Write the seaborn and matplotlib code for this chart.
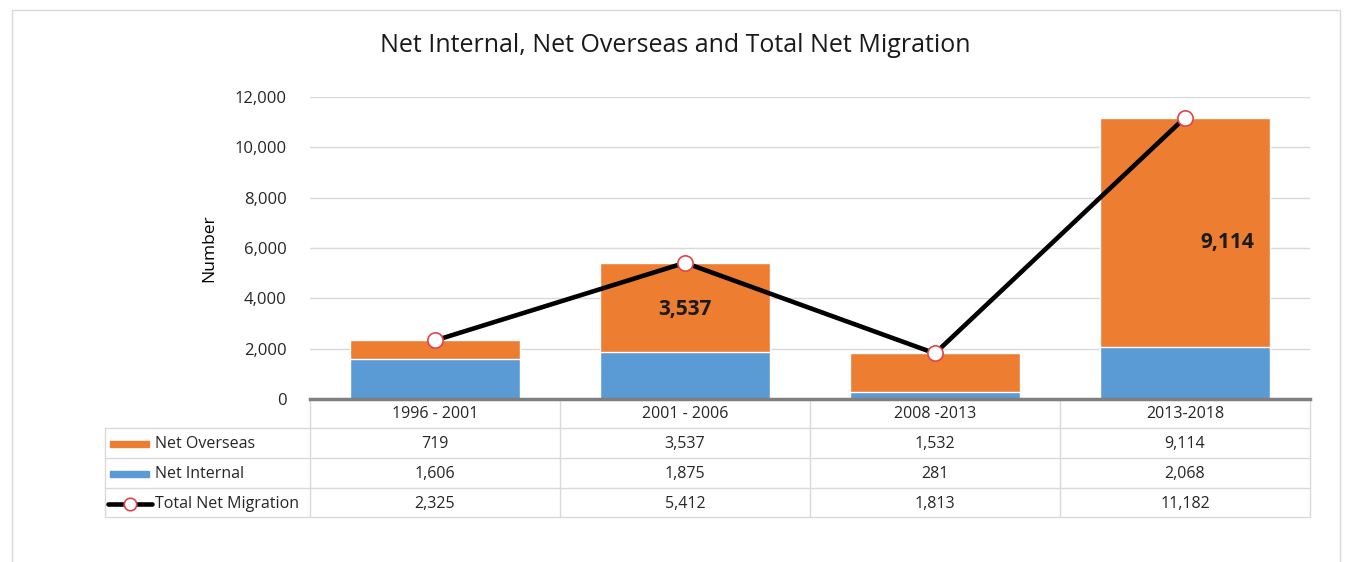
import numpy as np
import matplotlib
matplotlib.use("Agg")
import matplotlib.pyplot as plt
import seaborn as sns
from matplotlib.patches import Rectangle
from matplotlib.lines import Line2D

periods = ["1996 - 2001", "2001 - 2006", "2008 -2013", "2013-2018"]
net_overseas = [719, 3537, 1532, 9114]
net_internal = [1606, 1875, 281, 2068]
total_net = [2325, 5412, 1813, 11182]
series_names = ["Net Overseas", "Net Internal", "Total Net Migration"]
yticks = [0, 2000, 4000, 6000, 8000, 10000, 12000]

ORANGE = "#ED7D31"
BLUE = "#5B9BD5"
GRID = "#D9D9D9"
TXT = "#262626"

sns.set_theme(style="white")
plt.rcParams["font.family"] = ["Open Sans", "DejaVu Sans"]

W, H = 1348, 562
fig = plt.figure(figsize=(W / 100, H / 100), dpi=100)

# pixel helper axes for frame / table
over = fig.add_axes([0, 0, 1, 1], zorder=0)
over.set_xlim(0, W)
over.set_ylim(H, 0)
over.axis("off")

# outer chart frame
over.add_patch(Rectangle((12, 10), 1328, 600, fill=False, ec="#D9D9D9", lw=1))

px_left, px_right, px_top, px_bottom = 310, 1310, 97, 399
ax = fig.add_axes([px_left / W, 1 - px_bottom / H,
                   (px_right - px_left) / W, (px_bottom - px_top) / H], zorder=2)
ax.patch.set_alpha(0)

stack_top = [a + b for a, b in zip(net_overseas, net_internal)]
sns.barplot(x=periods, y=stack_top, color=ORANGE, width=0.68, ax=ax,
            saturation=1, zorder=2)
sns.barplot(x=periods, y=net_internal, color=BLUE, width=0.68, ax=ax,
            saturation=1, zorder=2)
ax.plot(range(len(periods)), total_net, color="black", lw=3.3, zorder=4,
        marker="o", markersize=11, markerfacecolor="white",
        markeredgecolor="#E0444B", markeredgewidth=1.2)

ax.set_xlim(-0.5, 3.5)
ax.set_ylim(0, 12000)
ax.set_yticks(yticks)
ax.set_yticklabels([f"{v:,}" for v in yticks], fontsize=12, color=TXT)
ax.set_xticks([])
ax.set_xlabel("")
ax.set_ylabel("Number", fontsize=12.5, color="black", labelpad=12)
ax.yaxis.grid(True, color=GRID, lw=1, zorder=0)
ax.set_axisbelow(True)
for s in ["top", "right", "left"]:
    ax.spines[s].set_visible(False)
ax.spines["bottom"].set_color("#7F7F7F")
ax.spines["bottom"].set_linewidth(2.5)
ax.tick_params(axis="y", length=0, pad=17)

# data labels inside orange segments
ax.text(1, 3576, f"{net_overseas[1]:,}", ha="center", va="center",
        fontsize=15, fontweight="bold", color="#1a1a1a", zorder=5)
ax.text(3.17, 6200, f"{net_overseas[3]:,}", ha="center", va="center",
        fontsize=15, fontweight="bold", color="#1a1a1a", zorder=5)

fig.text(675 / W, 1 - 45 / H, "Net Internal, Net Overseas and Total Net Migration",
         ha="center", va="center", fontsize=18, color="#1a1a1a")

# data table
col_w = (px_right - px_left) / len(periods)
row_edges = [399, 428, 458, 488, 517]
tab_left = 105
lc = "#D9D9D9"
for yv in row_edges[1:]:
    over.plot([tab_left, px_right], [yv, yv], color=lc, lw=1)
for i in range(len(periods) + 1):
    xv = px_left + i * col_w
    over.plot([xv, xv], [row_edges[0], row_edges[-1]], color=lc, lw=1)
over.plot([tab_left, tab_left], [row_edges[1], row_edges[-1]], color=lc, lw=1)

for i, p in enumerate(periods):
    xc = px_left + (i + 0.5) * col_w
    over.text(xc, (row_edges[0] + row_edges[1]) / 2 + 1, p, ha="center",
              va="center", fontsize=11.5, color=TXT)
    for r, vals in enumerate([net_overseas, net_internal, total_net]):
        yc = (row_edges[r + 1] + row_edges[r + 2]) / 2 + 1
        over.text(xc, yc, f"{vals[i]:,}", ha="center", va="center",
                  fontsize=11.5, color=TXT)

# legend keys in the table
for r, name in enumerate(series_names):
    yc = (row_edges[r + 1] + row_edges[r + 2]) / 2 + 1
    if r < 2:
        over.add_patch(Rectangle((110, yc - 3), 39, 6,
                                 color=ORANGE if r == 0 else BLUE))
    else:
        over.add_line(Line2D([108, 152], [yc, yc], color="black", lw=3.3))
        over.plot([130], [yc], marker="o", markersize=9, markerfacecolor="white",
                  markeredgecolor="#E0444B", markeredgewidth=1.2)
    over.text(155, yc, name, ha="left", va="center", fontsize=11.5, color=TXT)

fig.savefig("out.png", dpi=100, facecolor="white")
